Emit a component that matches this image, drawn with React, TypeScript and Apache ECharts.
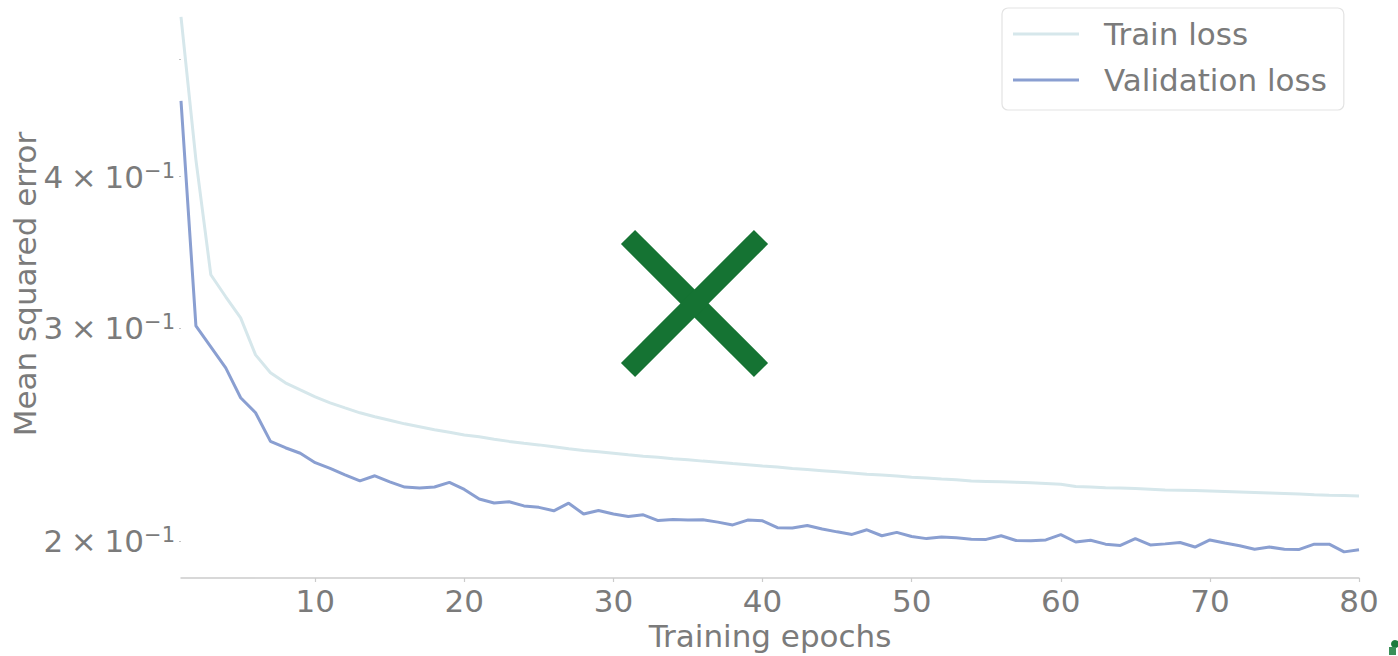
import React, { useEffect, useRef } from "react";
import * as echarts from "echarts";

// Epoch indices (1..80)
const epochs: number[] = Array.from({ length: 80 }, (_, i) => i + 1);

// Mean squared error per epoch
const trainLoss: number[] = [
  0.542, 0.413, 0.332, 0.3184, 0.3059, 0.2851, 0.2756, 0.2704, 0.2668, 0.2633,
  0.2603, 0.2578, 0.2554, 0.2535, 0.2518, 0.2501, 0.2487, 0.2473, 0.2461, 0.2449,
  0.244, 0.2429, 0.2419, 0.241, 0.2403, 0.2394, 0.2385, 0.2378, 0.2372, 0.2365,
  0.2358, 0.2352, 0.2347, 0.234, 0.2336, 0.233, 0.2325, 0.2319, 0.2314, 0.2308,
  0.2304, 0.2298, 0.2293, 0.2288, 0.2283, 0.2278, 0.2273, 0.2269, 0.2265, 0.226,
  0.2256, 0.2252, 0.2249, 0.2244, 0.2242, 0.224, 0.2238, 0.2236, 0.2233, 0.223,
  0.222, 0.2218, 0.2215, 0.2214, 0.2212, 0.2209, 0.2206, 0.2205, 0.2203, 0.2201,
  0.2199, 0.2197, 0.2195, 0.2193, 0.2191, 0.2189, 0.2186, 0.2184, 0.2183, 0.2181,
];

const validationLoss: number[] = [
  0.462, 0.3013, 0.2895, 0.2782, 0.2628, 0.2554, 0.2419, 0.239, 0.2365, 0.2323,
  0.2298, 0.227, 0.2244, 0.2266, 0.224, 0.2218, 0.2214, 0.2218, 0.2238, 0.2208,
  0.2168, 0.2152, 0.2157, 0.214, 0.2134, 0.212, 0.2151, 0.2107, 0.2121, 0.2107,
  0.2097, 0.2104, 0.2081, 0.2085, 0.2083, 0.2084, 0.2075, 0.2064, 0.2083, 0.208,
  0.2053, 0.2052, 0.2062, 0.2048, 0.2037, 0.2027, 0.2045, 0.2022, 0.2035, 0.2019,
  0.2011, 0.2017, 0.2014, 0.2009, 0.2008, 0.2022, 0.2004, 0.2003, 0.2006, 0.2026,
  0.1998, 0.2005, 0.199, 0.1985, 0.2011, 0.1987, 0.1991, 0.1996, 0.1979, 0.2006,
  0.1994, 0.1984, 0.1971, 0.1979, 0.1971, 0.197, 0.199, 0.199, 0.1961, 0.1969,
];

// Axis ticks
const xTicks: number[] = [10, 20, 30, 40, 50, 60, 70, 80];
const yLabelTicks: number[] = [0.2, 0.3, 0.4];
const yTickMarks: number[] = [0.2, 0.3, 0.4, 0.5];

const FONT = "DejaVu Sans";
const GREY = "#7b7b7b";
const TRAIN_COLOR = "#d6e7eb";
const VAL_COLOR = "#8a9fd1";
const GAP = "\u2005";

export default function App() {
  const ref = useRef<HTMLDivElement>(null);

  useEffect(() => {
    if (!ref.current) return;
    const chart = echarts.init(ref.current, undefined, { renderer: "svg" });

    const option: any = {
      animation: false,
      backgroundColor: "#ffffff",
      textStyle: { fontFamily: FONT },
      grid: {
        left: 181,
        right: 39,
        top: -10,
        bottom: 78,
        containLabel: false,
        outerBoundsMode: "none",
      },
      legend: {
        orient: "vertical",
        left: 1002,
        top: 8,
        padding: [3, 17, 7, 11],
        icon: "rect",
        itemWidth: 66,
        itemHeight: 3,
        itemGap: 0,
        borderColor: "#e3e3e3",
        borderWidth: 1.2,
        borderRadius: 6,
        backgroundColor: "#ffffff",
        textStyle: {
          fontFamily: FONT,
          fontSize: 31,
          color: GREY,
          lineHeight: 46,
          padding: [0, 0, 0, 20],
        },
        data: ["Train loss", "Validation loss"],
      },
      xAxis: {
        type: "value",
        min: 1,
        max: 80,
        name: "Training epochs",
        nameLocation: "middle",
        nameGap: 35,
        nameTextStyle: { fontFamily: FONT, fontSize: 31, color: GREY },
        splitLine: { show: false },
        axisLine: { show: true, lineStyle: { color: "#cccccc", width: 1.5 } },
        axisTick: {
          show: true,
          length: 4,
          customValues: xTicks,
          lineStyle: { color: "#cccccc", width: 1.2 },
        },
        axisLabel: {
          customValues: xTicks,
          fontFamily: FONT,
          fontSize: 31,
          color: GREY,
          margin: 7,
        },
      },
      yAxis: {
        type: "log",
        logBase: 10,
        min: 0.1866,
        max: 0.5703,
        name: "Mean squared error",
        nameLocation: "middle",
        nameGap: 141,
        nameMoveOverlap: false,
        nameTextStyle: { fontFamily: FONT, fontSize: 31, color: GREY },
        splitLine: { show: false },
        axisLine: { show: false },
        axisTick: {
          show: true,
          length: 2,
          customValues: yTickMarks,
          lineStyle: { color: "#c4c4c4", width: 1 },
        },
        axisLabel: {
          customValues: yLabelTicks,
          margin: 6,
          formatter: (v: number) =>
            `{b|${Math.round(v * 10)}${GAP}×${GAP}10}{e|−1}`,
          rich: {
            b: { fontFamily: FONT, fontSize: 31, color: GREY },
            e: { fontFamily: FONT, fontSize: 21, color: GREY, padding: [0, 0, 12, 0] },
          },
        },
      },
      series: [
        {
          name: "Train loss",
          type: "line",
          symbol: "none",
          data: epochs.map((e, i) => [e, trainLoss[i]]),
          lineStyle: { color: TRAIN_COLOR, width: 3 },
          itemStyle: { color: TRAIN_COLOR },
        },
        {
          name: "Validation loss",
          type: "line",
          symbol: "none",
          data: epochs.map((e, i) => [e, validationLoss[i]]),
          lineStyle: { color: VAL_COLOR, width: 3 },
          itemStyle: { color: VAL_COLOR },
        },
      ],
      graphic: [
        {
          type: "line",
          shape: { x1: 628, y1: 237, x2: 761, y2: 370 },
          style: { stroke: "#157333", lineWidth: 20, lineCap: "butt" },
          z: 100,
        },
        {
          type: "line",
          shape: { x1: 761, y1: 237, x2: 628, y2: 370 },
          style: { stroke: "#157333", lineWidth: 20, lineCap: "butt" },
          z: 100,
        },
        {
          type: "circle",
          shape: { cx: 1395, cy: 644, r: 4 },
          style: { fill: "#1d7a3c" },
        },
        {
          type: "rect",
          shape: { x: 1389, y: 647, width: 7, height: 8 },
          style: { fill: "#3a9058" },
        },
      ],
    };

    chart.setOption(option);
    return () => chart.dispose();
  }, []);

  return (
    <div
      ref={ref}
      style={{ position: "fixed", left: 0, top: 0, width: 1398, height: 656 }}
    />
  );
}
